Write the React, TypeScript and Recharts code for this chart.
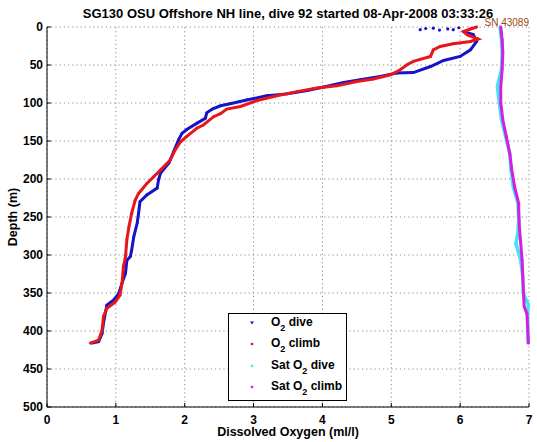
import React from 'react';
import { ScatterChart, Scatter, XAxis, YAxis, CartesianGrid, Legend } from 'recharts';

const O2_TICKS = [0, 1, 2, 3, 4, 5, 6, 7];
const DEPTH_TICKS = [0, 50, 100, 150, 200, 250, 300, 350, 400, 450, 500];

// [oxygen ml/l, depth m]; scattered surface samples at the start of the dive
const O2_DIVE_SURFACE: [number, number][] = [
  [5.42, 3.5], [5.5, 2], [5.61, 1.5], [5.7, 4], [5.82, 2.5], [5.9, 3.5], [5.98, 1], [6.05, 6],
];

// dive runs surface -> bottom
const O2_DIVE: [number, number][] = [
  [6.05, 6], [6.19, 10], [6.24, 19], [6.15, 30],
  [6.0, 38.7], [5.76, 44], [5.57, 52], [5.32, 60], [5.08, 60.6], [4.84, 65], [4.55, 69.5],
  [4.31, 73], [4.07, 78], [3.78, 83.5], [3.49, 88], [3.19, 90.5], [2.9, 96], [2.66, 101],
  [2.52, 103.7], [2.4, 108], [2.32, 113], [2.3, 120], [2.18, 126.5], [2.03, 135], [1.96, 140],
  [1.91, 148.5], [1.84, 164], [1.77, 179], [1.65, 192], [1.62, 201], [1.6, 212], [1.45, 221],
  [1.35, 230], [1.33, 245], [1.31, 258], [1.26, 276], [1.23, 293.5], [1.21, 302], [1.16, 307],
  [1.14, 324], [1.09, 337], [1.04, 351], [0.97, 359], [0.87, 366], [0.85, 375], [0.82, 390],
  [0.8, 403], [0.75, 414], [0.65, 416],
];

// climb runs bottom -> surface
const O2_CLIMB: [number, number][] = [
  [0.63, 416], [0.75, 412], [0.8, 399], [0.82, 381], [0.87, 370], [0.99, 362], [1.06, 353],
  [1.09, 337], [1.11, 315], [1.14, 302], [1.16, 280], [1.19, 263], [1.23, 245], [1.28, 228],
  [1.33, 219], [1.45, 206], [1.55, 197], [1.65, 188], [1.79, 175], [1.86, 162], [1.94, 151],
  [2.03, 144], [2.18, 133], [2.27, 129], [2.42, 118], [2.52, 114], [2.61, 108], [2.81, 104.6],
  [3.05, 96.7], [3.34, 90.5], [3.63, 85], [3.92, 80.4], [4.21, 77.4], [4.5, 71.7], [4.74, 68.5],
  [4.99, 62.9], [5.13, 56.3], [5.23, 49.7], [5.32, 45.3], [5.57, 38.7], [5.61, 30], [5.71, 25.6],
  [5.9, 22], [6.15, 19], [6.26, 15.8], [6.1, 10], [6.05, 6], [6.15, 2.6], [6.24, 0],
];

const SAT_DIVE: [number, number][] = [
  [6.58, 0], [6.6, 17], [6.61, 34], [6.6, 56], [6.54, 78], [6.57, 100], [6.6, 122],
  [6.66, 144], [6.72, 166], [6.74, 188], [6.77, 210], [6.84, 232], [6.85, 254], [6.84, 270],
  [6.81, 285], [6.88, 307], [6.91, 329], [6.92, 351], [6.99, 365], [6.98, 375], [6.98, 395],
  [6.99, 416],
];

const SAT_CLIMB: [number, number][] = [
  [6.99, 416], [6.98, 395], [6.97, 377], [6.93, 368], [6.92, 351], [6.91, 329], [6.9, 307],
  [6.88, 285], [6.86, 263], [6.85, 241], [6.85, 232], [6.79, 210], [6.75, 188], [6.72, 166],
  [6.67, 144], [6.62, 122], [6.59, 100], [6.59, 78], [6.61, 56], [6.62, 34], [6.61, 17],
  [6.59, 0],
];

const LEGEND_LABELS = [
  { pre: 'O', post: ' dive' },
  { pre: 'O', post: ' climb' },
  { pre: 'Sat O', post: ' dive' },
  { pre: 'Sat O', post: ' climb' },
];

const COLORS = ['#1414c8', '#e8161c', '#3ee6f4', '#d61ee0'];
const FONT = '"Liberation Sans", Arial, Helvetica, sans-serif';
const tickStyle = { fontSize: 12, fontWeight: 700, fill: '#000', fontFamily: FONT };

const toPoints = (pairs: [number, number][]) => pairs.map(([o2, depth]) => ({ o2, depth }));

const dot = (color: string, r = 1.4) => (props: any) =>
  <circle cx={props.cx} cy={props.cy} r={r} fill={color} />;

const renderLegend = () => (
  <div
    style={{
      width: 119,
      height: 88,
      border: '1px solid #000',
      background: '#fff',
      position: 'relative',
      fontFamily: FONT,
      fontWeight: 700,
      fontSize: 12,
      boxSizing: 'border-box',
    }}
  >
    {LEGEND_LABELS.map((l, i) => (
      <div
        key={i}
        style={{ position: 'absolute', left: 0, top: 1 + i * 21.4, height: 16, width: 119, lineHeight: '14px' }}
      >
        <svg width={6} height={6} style={{ position: 'absolute', left: 20, top: 5 }}>
          {i === 0 ? (
            <path d="M1,1.5 L5,1.5 L3,4.5 Z" fill={COLORS[i]} />
          ) : (
            <circle cx={3} cy={3} r={1.3} fill={COLORS[i]} />
          )}
        </svg>
        <span style={{ position: 'absolute', left: 42, top: 0, whiteSpace: 'nowrap', color: '#000' }}>
          {l.pre}
          <span style={{ fontSize: 9, position: 'relative', top: 5 }}>2</span>
          {l.post}
        </span>
      </div>
    ))}
  </div>
);

export default function App() {
  return (
    <div style={{ position: 'absolute', left: 0, top: 0, width: 537, height: 442, background: '#fff', fontFamily: FONT }}>
      <div
        style={{
          position: 'absolute', left: 47, top: 6, width: 482, textAlign: 'center',
          fontSize: 13, fontWeight: 700, lineHeight: '15px', color: '#000', whiteSpace: 'nowrap',
        }}
      >
        SG130 OSU Offshore NH line, dive 92 started 08-Apr-2008 03:33:26
      </div>
      <div
        style={{
          position: 'absolute', right: 8, top: 17, fontSize: 10, lineHeight: '12px', color: '#9a4416',
        }}
      >
        SN 43089
      </div>
      <ScatterChart width={537} height={442} margin={{ top: 27, right: 8, bottom: 0, left: 7 }}>
        <CartesianGrid stroke="#8a8a8a" strokeDasharray="1.2 3" strokeWidth={1} />
        <XAxis
          dataKey="o2"
          type="number"
          domain={[0, 7]}
          ticks={O2_TICKS}
          height={35}
          tickSize={-4}
          tickMargin={12}
          tick={tickStyle}
          stroke="#000"
          tickLine={{ stroke: '#000' }}
          axisLine={{ stroke: '#000' }}
          label={{ value: 'Dissolved Oxygen (ml/l)', position: 'insideBottom', offset: 6, style: { ...tickStyle, fontSize: 12.5 } }}
        />
        <XAxis
          xAxisId="top"
          orientation="top"
          type="number"
          domain={[0, 7]}
          ticks={O2_TICKS}
          height={0}
          tickSize={-4}
          tick={false}
          stroke="#000"
        />
        <YAxis
          dataKey="depth"
          type="number"
          domain={[0, 500]}
          reversed
          ticks={DEPTH_TICKS}
          width={40}
          tickSize={-4}
          tickMargin={8}
          tick={tickStyle}
          stroke="#000"
          label={{
            content: () => (
              <text x={17} y={217} transform="rotate(-90 17 217)" textAnchor="middle" style={{ ...tickStyle, fontSize: 12.5 }}>
                Depth (m)
              </text>
            ),
          }}
        />
        <YAxis
          yAxisId="right"
          orientation="right"
          type="number"
          domain={[0, 500]}
          reversed
          ticks={DEPTH_TICKS}
          width={0}
          tickSize={-4}
          tick={false}
          stroke="#000"
        />
        <Legend
          content={renderLegend}
          layout="horizontal"
          verticalAlign="middle"
          align="center"
          wrapperStyle={{ left: 228, top: 313, width: 121, height: 90 }}
        />
        <Scatter
          name="O2 dive surface"
          data={toPoints(O2_DIVE_SURFACE)}
          fill={COLORS[0]}
          shape={dot(COLORS[0], 1.6)}
          legendType="none"
          isAnimationActive={false}
        />
        <Scatter
          name="O2 dive"
          data={toPoints(O2_DIVE)}
          fill={COLORS[0]}
          line={{ stroke: COLORS[0], strokeWidth: 3 }}
          shape={dot(COLORS[0])}
          isAnimationActive={false}
        />
        <Scatter
          name="O2 climb"
          data={toPoints(O2_CLIMB)}
          fill={COLORS[1]}
          line={{ stroke: COLORS[1], strokeWidth: 3 }}
          shape={dot(COLORS[1])}
          isAnimationActive={false}
        />
        <Scatter
          name="Sat O2 dive"
          data={toPoints(SAT_DIVE)}
          fill={COLORS[2]}
          line={{ stroke: COLORS[2], strokeWidth: 3.5 }}
          shape={dot(COLORS[2])}
          isAnimationActive={false}
        />
        <Scatter
          name="Sat O2 climb"
          data={toPoints(SAT_CLIMB)}
          fill={COLORS[3]}
          line={{ stroke: COLORS[3], strokeWidth: 3 }}
          shape={dot(COLORS[3])}
          isAnimationActive={false}
        />
      </ScatterChart>
    </div>
  );
}
